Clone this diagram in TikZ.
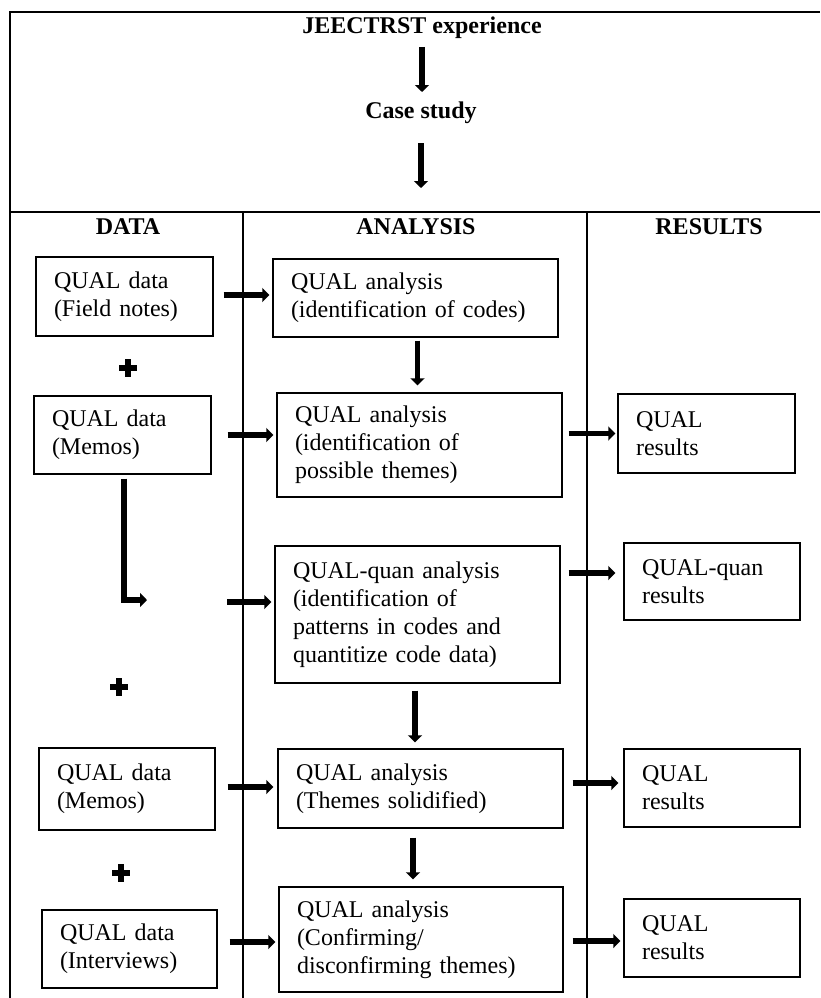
\documentclass[tikz,border=0pt]{standalone}
\usepackage{fontspec}
\setmainfont{Liberation Serif}
\usetikzlibrary{arrows.meta,calc}
\begin{document}
\begin{tikzpicture}[x=1pt,y=-1pt,
  frame/.style={line width=1.4pt},
  bx/.style={draw, line width=1.4pt, inner xsep=18pt, inner ysep=0pt, align=left,
    font=\fontsize{24}{28}\selectfont, anchor=center},
  hd/.style={font=\fontsize{24}{28}\selectfont\bfseries, inner sep=0pt},
  arr/.style={line width=5.5pt, -{Triangle[length=7pt,width=14pt]}},
  larr/.style={line width=6pt, -{Triangle[length=7pt,width=14pt]}},
  plussign/.style={line width=6.5pt}]
\useasboundingbox (0,0) rectangle (820,998);
% frame
\draw[frame] (10,998) -- (10,12) -- (820,12);
\draw[frame] (10,212) -- (820,212);
\draw[frame] (243,212) -- (243,998);
\draw[frame] (587,212) -- (587,998);
% top
\node[hd] (t1) at (422,28) {JEECTRST experience};
\node[hd] (t2) at (421,113) {Case study};
\coordinate (c1) at (421,188);
\draw[arr, shorten <=19pt, shorten >=21pt] (t1.center) -- (t1.center |- t2.center);
\draw[arr, shorten <=30pt] (t2.center) -- (c1);
% headers
\node[hd] (hD) at (128,227) {DATA};
\node[hd] (hA) at (416,227) {ANALYSIS};
\node[hd] (hR) at (709,227) {RESULTS};
% data boxes
\node[bx, text width=141pt, minimum height=79pt] (A1) at (124.5,296.5) {QUAL data\\(Field notes)};
\node[bx, text width=141pt, minimum height=78pt] (A2) at (122.5,435) {QUAL data\\(Memos)};
\node[bx, text width=140pt, minimum height=82pt] (A4) at (127,789) {QUAL data\\(Memos)};
\node[bx, text width=139pt, minimum height=78pt] (A5) at (129.5,949) {QUAL data\\(Interviews)};
% analysis boxes
\node[bx, text width=249pt, minimum height=78pt] (B1) at (415.5,298) {QUAL analysis\\(identification of codes)};
\node[bx, text width=249pt, minimum height=104pt] (B2) at (419.5,445) {QUAL analysis\\(identification of\\possible themes)};
\node[bx, text width=249pt, minimum height=137pt] (B3) at (417.5,614.5) {QUAL-quan analysis\\(identification of\\patterns in codes and\\quantitize code data)};
\node[bx, text width=249pt, minimum height=79pt] (B4) at (420.5,788.5) {QUAL analysis\\(Themes solidified)};
\node[bx, text width=248pt, minimum height=105pt] (B5) at (421,939.5) {QUAL analysis\\(Confirming/\\disconfirming themes)};
% results boxes
\node[bx, text width=141pt, minimum height=79pt] (C2) at (706.5,433.5) {QUAL\\results};
\node[bx, text width=140pt, minimum height=77pt] (C3) at (712,581.5) {QUAL-quan\\results};
\node[bx, text width=140pt, minimum height=78pt] (C4) at (712,788) {QUAL\\results};
\node[bx, text width=140pt, minimum height=78pt] (C5) at (712,938) {QUAL\\results};
% plus signs
\foreach \px/\py in {128/368, 119/687, 121/873}{
  \draw[plussign] (\px-9,\py) -- (\px+9,\py);
  \draw[plussign] (\px,\py-9) -- (\px,\py+9);
}
% data -> analysis arrows
\draw[arr, shorten <=10pt, shorten >=3pt] ([yshift=1.5pt]A1.east) -- ([yshift=1.5pt]A1.east -| B1.west);
\draw[arr, shorten <=16pt, shorten >=3pt] (A2.east) -- (A2.east -| B2.west);
\draw[arr, shorten <=12pt, shorten >=4pt] ([yshift=2pt]A4.east) -- ([yshift=2pt]A4.east -| B4.west);
\draw[arr, shorten <=12pt, shorten >=3pt] ([yshift=7pt]A5.east) -- ([yshift=7pt]A5.east -| B5.west);
% L arrow and gap arrow
\coordinate (cL) at (147,600);
\draw[larr] ([xshift=1.5pt,yshift=-4pt]A2.south) |- (cL);
\coordinate (cG) at (227,602);
\draw[arr, shorten >=3pt] (cG) -- (cG -| B3.west);
% analysis vertical arrows
\draw[arr, shorten <=3pt, shorten >=7pt] ([xshift=2pt]B1.south) -- ([xshift=2pt]B1.south |- B2.north);
\draw[arr, shorten <=7pt, shorten >=6pt] ([xshift=-2.5pt]B3.south) -- ([xshift=-2.5pt]B3.south |- B4.north);
\draw[arr, shorten <=9pt, shorten >=7pt] ([xshift=-7.5pt]B4.south) -- ([xshift=-7.5pt]B4.south |- B5.north);
% analysis -> results arrows
\draw[arr, shorten <=6pt, shorten >=2pt] (C2.west -| B2.east) -- (C2.west);
\draw[arr, shorten <=8pt, shorten >=8pt] ([yshift=8.5pt]C3.west -| B3.east) -- ([yshift=8.5pt]C3.west);
\draw[arr, shorten <=9pt, shorten >=5pt] ([yshift=5pt]C4.west -| B4.east) -- ([yshift=5pt]C4.west);
\draw[arr, shorten <=9pt, shorten >=3pt] ([yshift=-3pt]C5.west -| B5.east) -- ([yshift=-3pt]C5.west);
\end{tikzpicture}
\end{document}
